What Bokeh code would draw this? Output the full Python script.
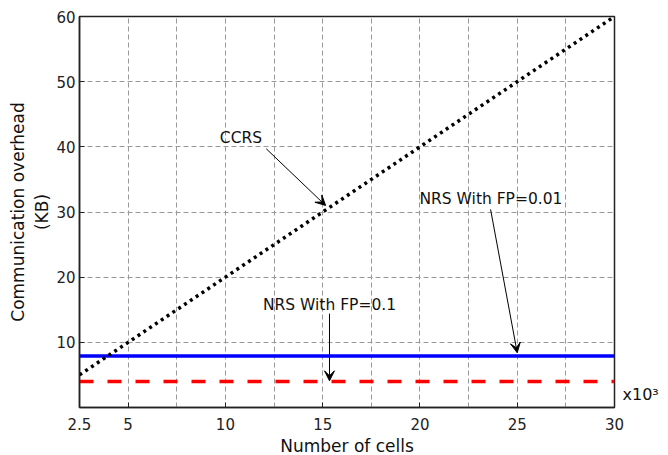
from bokeh.plotting import figure
from bokeh.models import (FixedTicker, Label, Arrow, VeeHead, LinearAxis, Range1d)
from bokeh.embed import file_html
from bokeh.resources import INLINE

# data (x in thousands of cells, y in KB)
cells = [2.5, 5, 7.5, 10, 12.5, 15, 17.5, 20, 22.5, 25, 27.5, 30]
ccrs = [5, 10, 15, 20, 25, 30, 35, 40, 45, 50, 55, 60]
nrs_fp001 = [7.9] * len(cells)
nrs_fp01 = [4.0] * len(cells)

x_ticks = [2.5, 5, 10, 15, 20, 25, 30]
x_grid = [2.5, 5, 7.5, 10, 12.5, 15, 17.5, 20, 22.5, 25, 27.5, 30]
y_ticks = [10, 20, 30, 40, 50, 60]
multiplier_text = "x10\u00b3"
multiplier_pos = 2

FONT = "DejaVu Sans"

p = figure(frame_width=535, frame_height=391, output_backend="svg",
           toolbar_location=None, x_range=Range1d(2.5, 30), y_range=Range1d(0, 60),
           min_border_left=79, min_border_right=54, min_border_top=16, min_border_bottom=48)
p.background_fill_color = "white"
p.border_fill_color = "white"
p.outline_line_color = "#222222"
p.outline_line_width = 1.5

# grids
p.xgrid.ticker = FixedTicker(ticks=x_grid)
p.ygrid.ticker = FixedTicker(ticks=y_ticks)
for g in (p.xgrid, p.ygrid):
    g.grid_line_color = "#999999"
    g.grid_line_dash = "5 3"
    g.grid_line_width = 1

# axes
p.xaxis.ticker = FixedTicker(ticks=x_ticks)
p.yaxis.ticker = FixedTicker(ticks=y_ticks)
for ax in (p.xaxis, p.yaxis):
    ax.major_tick_in = 5
    ax.major_tick_out = 0
    ax.minor_tick_in = 0
    ax.minor_tick_out = 0
    ax.axis_line_color = "#222222"
    ax.axis_line_width = 1.5
    ax.major_tick_line_color = "#222222"
    ax.major_label_text_font = FONT
    ax.major_label_text_font_size = "15px"
    ax.major_label_text_color = "#222222"
    ax.axis_label_text_font = FONT
    ax.axis_label_text_font_size = "17px"
    ax.axis_label_text_font_style = "normal"
    ax.axis_label_text_color = "#111111"

p.xaxis.axis_label = "Number of cells"
p.xaxis.major_label_standoff = 10
p.xaxis.axis_label_standoff = 3
p.yaxis.axis_label = "Communication overhead\n(KB)"
p.yaxis.major_label_standoff = 4
p.yaxis.axis_label_standoff = 1

# right axis carrying the x10^3 multiplier
ra = LinearAxis(ticker=FixedTicker(ticks=[multiplier_pos]),
                major_label_overrides={multiplier_pos: multiplier_text},
                major_tick_in=0, major_tick_out=0, minor_tick_in=0, minor_tick_out=0,
                axis_line_color=None, major_label_standoff=8,
                major_label_text_font=FONT, major_label_text_font_size="16px",
                major_label_text_color="#111111")
p.add_layout(ra, "right")

# series
p.line(cells, nrs_fp01, line_color="#ff0000", line_width=3.5, line_dash="14 14")
p.line(cells, nrs_fp001, line_color="#0000ff", line_width=3.5)
p.line(cells, ccrs, line_color="black", line_width=3.5, line_dash="3 4")

# annotations
def note(text, x, y):
    p.add_layout(Label(x=x, y=y, text=text, text_font=FONT, text_font_size="15.5px",
                       text_align="center", text_baseline="middle", text_color="#111111"))

def arrow(x0, y0, x1, y1):
    p.add_layout(Arrow(x_start=x0, y_start=y0, x_end=x1, y_end=y1, line_width=1,
                       line_color="black",
                       end=VeeHead(size=10, fill_color="black", line_color="black")))

note("CCRS", 10.8, 41.3)
arrow(12.1, 39.7, 15.15, 31.0)
note("NRS With FP=0.01", 23.65, 32.0)
arrow(23.63, 30.4, 25.0, 8.4)
note("NRS With FP=0.1", 15.35, 15.7)
arrow(15.35, 14.4, 15.35, 4.1)

open("out.html", "w").write(file_html(p, INLINE))
